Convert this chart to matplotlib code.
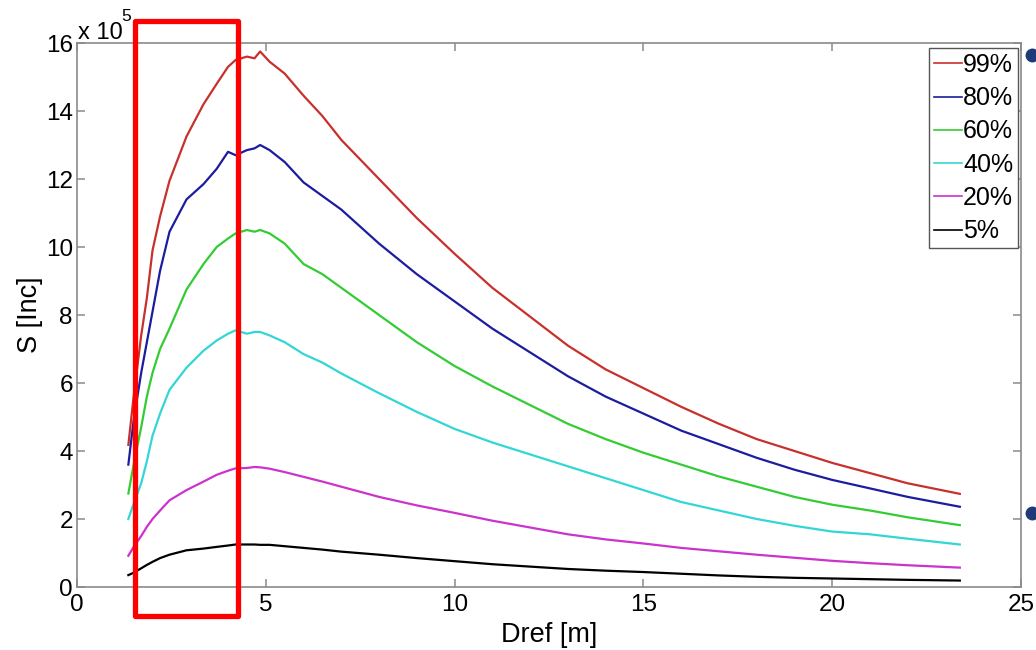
import numpy as np
import matplotlib
matplotlib.use("Agg")
import matplotlib.pyplot as plt
from matplotlib.patches import Rectangle
from matplotlib.lines import Line2D

plt.rcParams['font.family'] = ['Liberation Sans', 'DejaVu Sans']

# distance grid [m]
dref = [1.36, 1.5, 1.7, 1.85, 2.0, 2.2, 2.45, 2.9, 3.35, 3.7, 4.0, 4.2, 4.5, 4.7, 4.85,
        5.1, 5.5, 6.0, 6.5, 7.0, 8.0, 9.0, 10.0, 11.0, 12.0, 13.0, 14.0, 15.0, 16.0,
        17.0, 18.0, 19.0, 20.0, 21.0, 22.0, 23.38]

# S values in units of 1e5
s99 = [4.18, 5.6, 7.4, 8.5, 9.9, 10.9, 11.95, 13.25, 14.2, 14.8, 15.3, 15.5, 15.6, 15.55, 15.75,
       15.45, 15.1, 14.45, 13.85, 13.15, 12.0, 10.85, 9.8, 8.8, 7.95, 7.1, 6.4, 5.85, 5.3,
       4.8, 4.35, 4.0, 3.65, 3.35, 3.05, 2.74]
s80 = [3.6, 4.9, 6.3, 7.2, 8.1, 9.3, 10.45, 11.4, 11.85, 12.3, 12.8, 12.7, 12.85, 12.9, 13.0,
       12.85, 12.5, 11.9, 11.5, 11.1, 10.1, 9.2, 8.4, 7.6, 6.9, 6.2, 5.6, 5.1, 4.6,
       4.2, 3.8, 3.45, 3.15, 2.9, 2.65, 2.36]
s60 = [2.75, 3.6, 4.7, 5.6, 6.3, 7.0, 7.6, 8.75, 9.5, 10.0, 10.25, 10.4, 10.5, 10.45, 10.5,
       10.4, 10.1, 9.5, 9.2, 8.8, 8.0, 7.2, 6.5, 5.9, 5.35, 4.8, 4.35, 3.95, 3.6,
       3.25, 2.95, 2.65, 2.42, 2.25, 2.05, 1.82]
s40 = [2.0, 2.45, 3.05, 3.7, 4.45, 5.1, 5.8, 6.45, 6.95, 7.25, 7.45, 7.55, 7.45, 7.5, 7.5,
       7.4, 7.2, 6.85, 6.6, 6.28, 5.7, 5.15, 4.65, 4.25, 3.9, 3.55, 3.2, 2.85, 2.5,
       2.25, 2.0, 1.8, 1.63, 1.55, 1.42, 1.25]
s20 = [0.92, 1.18, 1.5, 1.77, 2.0, 2.25, 2.55, 2.85, 3.1, 3.3, 3.42, 3.49, 3.5, 3.53, 3.52,
       3.48, 3.38, 3.24, 3.1, 2.95, 2.65, 2.4, 2.18, 1.95, 1.75, 1.55, 1.4, 1.28, 1.15,
       1.05, 0.95, 0.86, 0.77, 0.7, 0.64, 0.57]
s05 = [0.35, 0.42, 0.55, 0.65, 0.74, 0.85, 0.95, 1.08, 1.13, 1.18, 1.22, 1.25, 1.25, 1.25, 1.24,
       1.24, 1.2, 1.15, 1.1, 1.04, 0.95, 0.85, 0.76, 0.67, 0.6, 0.53, 0.48, 0.44, 0.39,
       0.34, 0.3, 0.27, 0.25, 0.23, 0.21, 0.19]

series = [s99, s80, s60, s40, s20, s05]
labels = ['99%', '80%', '60%', '40%', '20%', '5%']
colors = ['#c8302c', '#1c1ca0', '#33cc33', '#33d6d6', '#cc33cc', '#000000']

W, H = 1036, 650
fig = plt.figure(figsize=(W / 100, H / 100), dpi=100)
ax = fig.add_axes([77 / W, 1 - 587 / H, (1021 - 77) / W, (587 - 43) / H])

for ys, lab, c in zip(series, labels, colors):
    ax.plot(dref, ys, color=c, linewidth=1.6, label=lab)

ax.set_xlim(0, 25)
ax.set_ylim(0, 16)
ax.set_xticks([0, 5, 10, 15, 20, 25])
ax.set_yticks(range(0, 17, 2))
for s in ax.spines.values():
    s.set_color('#8a8a8a')
    s.set_linewidth(1.2)
ax.tick_params(direction='in', length=6, width=1.1, color='#8a8a8a',
               top=True, right=True, labelsize=17.5, labelcolor='black')
ax.tick_params(axis='x', pad=5)
ax.tick_params(axis='y', pad=3)
ax.set_xlabel('Dref [m]', fontsize=19.5, labelpad=4)
ax.set_ylabel('S [Inc]', fontsize=19.5, labelpad=2)

# MATLAB style exponent label
fig.text(78 / W, 1 - 39 / H, 'x 10', fontsize=17, ha='left', va='baseline')
fig.text(121 / W, 1 - 21 / H, '5', fontsize=12.5, ha='left', va='baseline')

leg = ax.legend(loc='upper right', bbox_to_anchor=(1018 / W, 1 - 48 / H),
                bbox_transform=fig.transFigure, borderaxespad=0, fontsize=18,
                handlelength=1.1, handletextpad=0.05, borderpad=0.2,
                labelspacing=0.37, fancybox=False, framealpha=1)
leg.get_frame().set_edgecolor('#555555')
leg.get_frame().set_linewidth(1.0)
for h in leg.get_lines():
    h.set_linewidth(1.2)

# red highlight box
rect = Rectangle((134.5 / W, 1 - 615.5 / H), 103 / W, 595 / H,
                 transform=fig.transFigure, fill=False, edgecolor='#ff0000',
                 linewidth=3.8, joinstyle='round', clip_on=False)
fig.patches.append(rect)

# slide bullets at right edge
for by in [55, 513]:
    fig.add_artist(Line2D([1032 / W], [1 - by / H], marker='o', markersize=9,
                          color='#1f3a78', transform=fig.transFigure))

fig.savefig('out.png', dpi=100)
